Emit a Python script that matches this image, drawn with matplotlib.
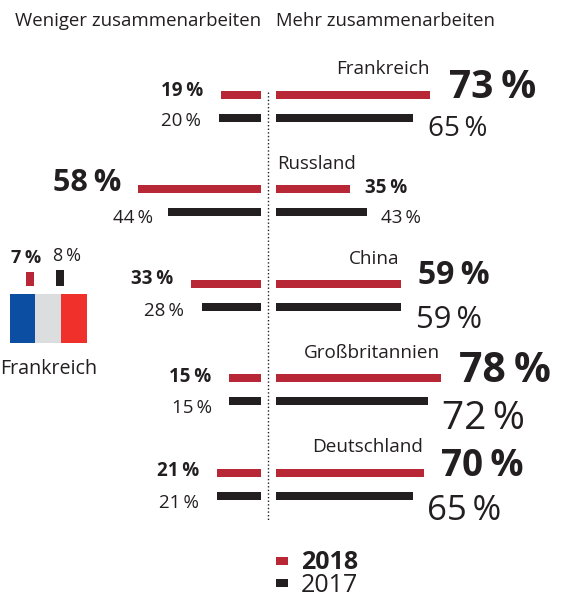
import matplotlib
matplotlib.use("Agg")
import matplotlib.pyplot as plt
from matplotlib.patches import Rectangle

plt.rcParams['font.family'] = ['Open Sans', 'DejaVu Sans']

countries = ["Frankreich", "Russland", "China", "Großbritannien", "Deutschland"]
more_2018 = [73, 35, 59, 78, 70]
more_2017 = [65, 43, 59, 72, 65]
less_2018 = [19, 58, 33, 15, 21]
less_2017 = [20, 44, 28, 15, 21]
inset_country = "Frankreich"
inset_2018 = 7
inset_2017 = 8

RED = "#b72735"
BLACK = "#231f20"
W, H = 565, 600
PX_PER_PCT = 2.115
ROW0, ROWSTEP, PAIR = 94.5, 94.5, 23
BAR_H = 8
SP = "\u2009"

fig = plt.figure(figsize=(W / 100, H / 100), dpi=100, facecolor="white")


def px_axes(x0, y0, x1, y1):
    a = fig.add_axes([x0 / W, 1 - y1 / H, (x1 - x0) / W, (y1 - y0) / H])
    a.axis("off")
    a.patch.set_alpha(0)
    return a


base = px_axes(0, 0, W, H)
base.set_xlim(0, W)
base.set_ylim(H, 0)

full = 100 * PX_PER_PCT
ax_r = px_axes(276, 0, 276 + full, H)
ax_r.set_xlim(0, 100)
ax_r.set_ylim(H, 0)
ax_l = px_axes(261 - full, 0, 261, H)
ax_l.set_xlim(100, 0)
ax_l.set_ylim(H, 0)

y18 = [ROW0 + ROWSTEP * i for i in range(len(countries))]
y17 = [y + PAIR for y in y18]

ax_r.barh(y18, more_2018, height=BAR_H, color=RED)
ax_r.barh(y17, more_2017, height=BAR_H, color=BLACK)
ax_l.barh(y18, less_2018, height=BAR_H, color=RED)
ax_l.barh(y17, less_2017, height=BAR_H, color=BLACK)

# dotted centre line
base.plot([268, 268], [92, 520], color=BLACK, lw=1, ls=(0, (1, 1.6)))


def label(ax, val, y, ha, dx, dy, size, bold):
    ax.annotate(f"{val}{SP}%", xy=(val, y), xytext=(dx, -dy), textcoords="offset pixels",
                ha=ha, va="baseline", fontsize=size, color=BLACK,
                fontweight="bold" if bold else "normal")


# (dx, baseline dy, font size) per row
r18 = [(19, 4, 28), (15, 4, 13.5), (17, 1, 23), (18, 4, 29.5), (17, 4, 26.5)]
r17 = [(15, 18, 20), (14, 11, 13.5), (15, 22, 22.3), (14, 28, 28), (14, 25, 25)]
l18 = [(-18, 1, 13.5), (-17, 2, 22), (-18, 1, 13.5), (-18, 4, 13.5), (-17, 4, 13.5)]
l17 = [(-18, 8, 13.5), (-15, 11, 13.5), (-18, 10, 13.5), (-17, 12, 13.5), (-18, 13, 13.5)]

for i in range(len(countries)):
    d = r18[i]
    label(ax_r, more_2018[i], y18[i], "left", d[0], d[1], d[2], True)
    d = r17[i]
    label(ax_r, more_2017[i], y17[i], "left", d[0], d[1], d[2], False)
    d = l18[i]
    label(ax_l, less_2018[i], y18[i], "right", d[0], d[1], d[2], True)
    d = l17[i]
    label(ax_l, less_2017[i], y17[i], "right", d[0], d[1], d[2], False)

# country labels
for i, c in enumerate(countries):
    if c == "Russland":
        ax_r.annotate(c, xy=(0, y18[i]), xytext=(1, 20), textcoords="offset pixels",
                      ha="left", va="baseline", fontsize=13.4, color=BLACK)
    else:
        ax_r.annotate(c, xy=(more_2018[i], y18[i]), xytext=(-1, 20), textcoords="offset pixels",
                      ha="right", va="baseline", fontsize=13.6, color=BLACK)

# headers
base.text(15, 26, "Weniger zusammenarbeiten", fontsize=13.4, color=BLACK, ha="left", va="baseline")
base.text(276, 26, "Mehr zusammenarbeiten", fontsize=13.3, color=BLACK, ha="left", va="baseline")

# inset: small bars over flag
ax_f = px_axes(15, 266, 75, 286)
ax_f.set_xlim(-0.5, 1.5)
ax_f.set_ylim(0, 10)
ax_f.bar([0, 1], [inset_2018, inset_2017], width=0.27, color=[RED, BLACK])
ax_f.annotate(f"{inset_2018}{SP}%", xy=(0, inset_2018), xytext=(-4, 9), textcoords="offset pixels",
              ha="center", va="baseline", fontsize=13, fontweight="bold", color=BLACK)
ax_f.annotate(f"{inset_2017}{SP}%", xy=(1, inset_2017), xytext=(7, 9), textcoords="offset pixels",
              ha="center", va="baseline", fontsize=13, color=BLACK)

for x0, x1, col in [(10, 35, "#0b4ea2"), (35, 61, "#dcddde"), (61, 87, "#f0302a")]:
    base.add_patch(Rectangle((x0, 294), x1 - x0, 49, facecolor=col, edgecolor="none"))
base.text(0, 374, inset_country, fontsize=14.2, color=BLACK, ha="left", va="baseline")

# legend
base.add_patch(Rectangle((276, 557), 12, 8, facecolor=RED, edgecolor="none"))
base.add_patch(Rectangle((276, 579), 12, 8, facecolor=BLACK, edgecolor="none"))
base.text(301, 569, "2018", fontsize=18, fontweight="bold", color=BLACK, ha="left", va="baseline")
base.text(301, 592, "2017", fontsize=18, color=BLACK, ha="left", va="baseline")

fig.savefig("out.png", dpi=100)
